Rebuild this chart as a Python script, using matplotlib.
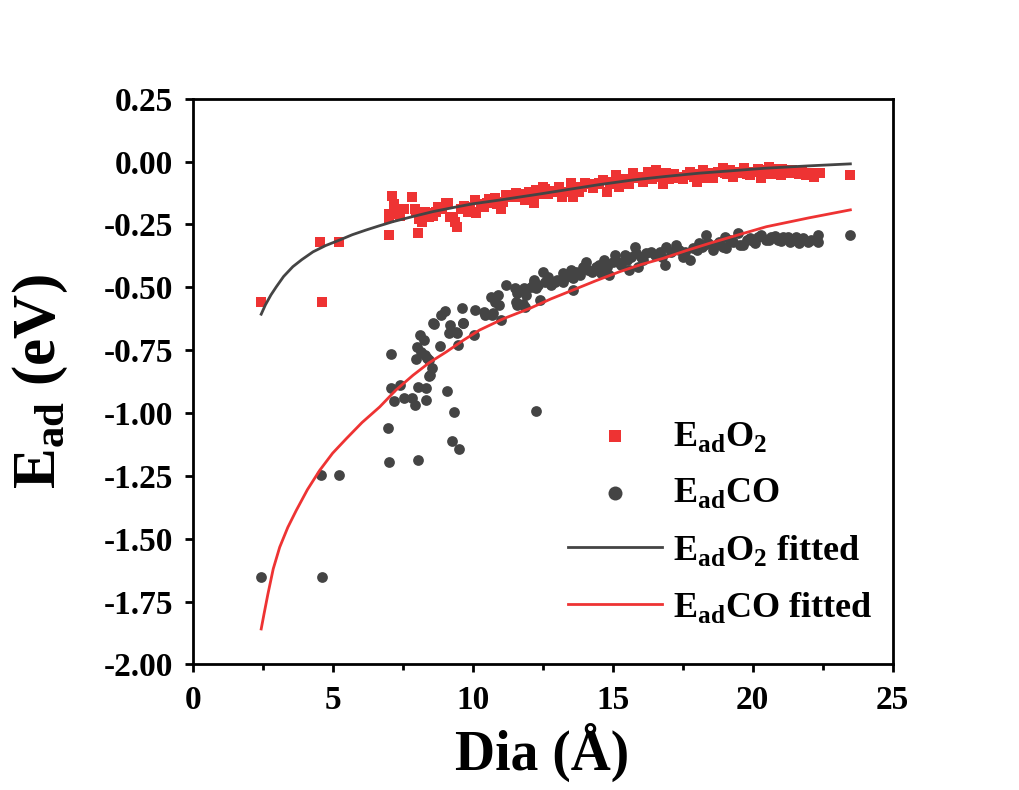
import matplotlib
matplotlib.use("Agg")
import matplotlib.pyplot as plt
import numpy as np

# E_ad O2 scatter (Dia in Angstrom, energy in eV)
o2_x = [2.45, 4.56, 5.23, 4.63, 7.11, 7.0, 7.2, 7.0, 7.03, 7.4, 7.54, 7.82, 8.04, 7.99,
        8.2, 8.43, 8.7, 9.06, 9.3, 9.46, 9.6, 10.07, 10.07, 10.7, 11.02, 11.43, 11.67, 12.2,
        7.32, 7.5, 7.93, 8.3, 8.52, 8.76, 9.12, 9.18, 9.36, 9.82, 10.13, 10.5, 10.79, 10.86,
        11.2, 11.56, 11.86, 12.15, 12.27, 12.5, 12.7, 13.1, 13.2, 13.52, 13.6, 13.9, 14.3,
        14.65, 14.8, 15.13, 15.24, 15.6, 15.72, 16.1, 16.26, 16.55, 16.8, 16.9, 17.3, 17.65,
        17.75, 18.0, 18.23, 18.35, 18.6, 18.94, 19.3, 19.7, 20.05, 20.3, 20.6, 20.9, 21.2,
        21.55, 21.92, 22.2, 22.4, 23.46, 12.9, 13.8, 14.1, 14.5, 15.0, 15.4, 16.0, 16.6,
        17.1, 17.5, 18.5, 19.1, 19.5, 19.9, 20.45, 20.75, 21.05, 21.4, 21.75,
        9.9, 10.3, 10.6, 11.1, 11.35, 11.75, 12.0, 12.4, 12.6, 12.95, 13.35, 13.7, 14.0,
        14.2, 14.45, 14.9, 15.3, 15.5, 15.85, 16.4, 16.7, 17.0, 17.2, 17.4, 17.9, 18.1,
        18.45, 18.75, 19.0, 19.2, 19.6, 19.8, 20.2, 20.55, 20.8, 21.0, 21.3, 21.65, 22.05,
        8.1, 8.6, 8.9, 9.7, 10.4]
o2_y = [-0.56, -0.32, -0.32, -0.56, -0.137, -0.29, -0.17, -0.21, -0.225, -0.216, -0.19, -0.14,
        -0.285, -0.2, -0.24, -0.22, -0.20, -0.166, -0.22, -0.26, -0.19, -0.153, -0.20, -0.15,
        -0.19, -0.14, -0.13, -0.165, -0.21, -0.19, -0.19, -0.20, -0.205, -0.18, -0.166, -0.22,
        -0.24, -0.2, -0.206, -0.166, -0.146, -0.17, -0.133, -0.126, -0.153, -0.14, -0.113,
        -0.10, -0.13, -0.10, -0.14, -0.086, -0.14, -0.10, -0.105, -0.073, -0.12, -0.053, -0.10,
        -0.09, -0.046, -0.08, -0.04, -0.033, -0.09, -0.046, -0.066, -0.053, -0.04, -0.08,
        -0.033, -0.066, -0.066, -0.026, -0.06, -0.026, -0.04, -0.066, -0.02, -0.04, -0.046,
        -0.046, -0.053, -0.06, -0.046, -0.053, -0.12, -0.12, -0.09, -0.085, -0.08, -0.07,
        -0.06, -0.06, -0.05, -0.07, -0.045, -0.05, -0.04, -0.055, -0.035, -0.05, -0.03,
        -0.035, -0.04,
        -0.18, -0.17, -0.15, -0.16, -0.14, -0.14, -0.12, -0.13, -0.11, -0.115, -0.12, -0.10,
        -0.085, -0.09, -0.09, -0.09, -0.075, -0.08, -0.065, -0.07, -0.06, -0.07, -0.05, -0.06,
        -0.06, -0.05, -0.055, -0.04, -0.045, -0.035, -0.045, -0.05, -0.03, -0.05, -0.03,
        -0.055, -0.035, -0.05, -0.045, -0.23, -0.215, -0.19, -0.175, -0.18]

# E_ad CO scatter
co_x = [2.45, 4.62, 4.58, 5.23, 7.01, 8.04, 6.99, 9.26, 9.5, 9.35, 12.25, 7.07, 7.1, 7.39,
        7.21, 7.55, 7.82, 7.94, 8.04, 8.32, 8.32, 9.1, 7.99, 8.01, 8.13, 8.25, 8.3, 8.56,
        8.44, 8.61, 8.82, 8.88, 9.0, 9.21, 9.15, 9.46, 9.48, 9.64, 9.61, 10.05, 10.08, 10.43,
        10.7, 11.02, 10.95, 11.57, 11.87, 11.2, 11.5, 11.58, 11.82, 11.9, 12.21, 12.27, 11.56,
        11.8, 10.67, 10.9, 10.8, 10.72, 10.42, 8.58, 9.42, 9.65, 8.16, 8.36, 8.43, 8.47,
        12.2, 12.1, 12.51, 12.6, 12.4, 12.8, 12.93, 13.22, 13.22, 13.5, 13.58, 13.58, 13.82,
        14.06, 14.12, 14.4, 14.6, 14.7, 14.88, 15.07, 15.2, 15.5, 15.45, 15.6, 15.79, 15.85,
        16.0, 16.2, 15.9, 16.38, 16.68, 16.86, 16.9, 17.27, 17.38, 17.5, 17.75, 17.87, 18.1,
        18.33, 18.27, 18.4, 18.58, 18.8, 19.0, 19.05, 19.3, 19.48, 19.65, 19.9, 20.1, 20.3,
        20.49, 20.67, 20.9, 21.1, 21.35, 21.56, 21.67, 21.98, 22.33, 22.33, 23.46,
        12.35, 12.7, 13.0, 13.35, 13.7, 13.95, 14.25, 14.5, 14.8, 15.0, 15.3, 15.65, 16.1,
        16.5, 16.75, 17.1, 17.6, 18.0, 18.2, 18.7, 18.95, 19.2, 19.55, 19.8, 20.0, 20.2,
        20.6, 20.8, 21.0, 21.25, 21.45, 21.8, 22.1]
co_y = [-1.653, -1.653, -1.248, -1.245, -1.195, -1.186, -1.06, -1.11, -1.142, -0.996, -0.992,
        -0.767, -0.9, -0.89, -0.952, -0.94, -0.94, -0.97, -0.896, -0.9, -0.95, -0.912, -0.787,
        -0.737, -0.69, -0.71, -0.77, -0.82, -0.852, -0.647, -0.733, -0.61, -0.595, -0.648,
        -0.68, -0.68, -0.73, -0.644, -0.584, -0.69, -0.59, -0.61, -0.61, -0.63, -0.57, -0.57,
        -0.58, -0.49, -0.504, -0.524, -0.504, -0.53, -0.478, -0.504, -0.558, -0.565, -0.538,
        -0.53, -0.56, -0.604, -0.597, -0.644, -0.677, -0.644, -0.757, -0.78, -0.79, -0.85,
        -0.471, -0.5, -0.438, -0.48, -0.55, -0.49, -0.48, -0.445, -0.48, -0.43, -0.511,
        -0.465, -0.45, -0.398, -0.43, -0.42, -0.445, -0.392, -0.45, -0.37, -0.40, -0.39,
        -0.37, -0.43, -0.339, -0.365, -0.38, -0.365, -0.42, -0.36, -0.36, -0.41, -0.34,
        -0.33, -0.35, -0.38, -0.39, -0.345, -0.325, -0.292, -0.33, -0.325, -0.35, -0.32,
        -0.30, -0.345, -0.32, -0.285, -0.33, -0.305, -0.325, -0.29, -0.312, -0.30, -0.312,
        -0.30, -0.32, -0.299, -0.325, -0.32, -0.292, -0.32, -0.292,
        -0.49, -0.46, -0.47, -0.46, -0.44, -0.42, -0.44, -0.41, -0.42, -0.40, -0.41, -0.38,
        -0.39, -0.37, -0.38, -0.36, -0.36, -0.35, -0.34, -0.33, -0.34, -0.31, -0.33, -0.31,
        -0.315, -0.30, -0.31, -0.295, -0.315, -0.30, -0.31, -0.305, -0.31]

# fitted curves
fit_o2_x = [2.45, 2.6, 2.8, 2.99, 3.25, 3.58, 3.9, 4.3, 4.75, 5.25, 5.7, 6.2, 6.65, 7.15,
            7.85, 8.58, 9.3, 10.0, 10.96, 12.39, 13.35, 14.5, 15.73, 16.9, 18.1, 19.3,
            20.49, 22.0, 23.49]
fit_o2_y = [-0.607, -0.57, -0.53, -0.498, -0.457, -0.418, -0.39, -0.359, -0.334, -0.312,
            -0.291, -0.272, -0.256, -0.239, -0.219, -0.199, -0.183, -0.168, -0.153, -0.129,
            -0.112, -0.092, -0.073, -0.059, -0.046, -0.036, -0.026, -0.017, -0.009]
fit_co_x = [2.45, 2.55, 2.69, 2.88, 3.11, 3.4, 3.7, 4.1, 4.54, 5.0, 5.49, 6.05, 6.68, 7.25,
            7.87, 8.45, 9.06, 9.65, 10.25, 11.1, 12.04, 12.8, 13.58, 14.4, 15.25, 16.0,
            16.8, 17.6, 18.46, 19.5, 20.49, 22.0, 23.49]
fit_co_y = [-1.859, -1.80, -1.72, -1.62, -1.534, -1.455, -1.388, -1.305, -1.228, -1.16,
            -1.102, -1.038, -0.976, -0.91, -0.85, -0.80, -0.757, -0.712, -0.67, -0.625,
            -0.584, -0.546, -0.511, -0.474, -0.438, -0.41, -0.385, -0.355, -0.325, -0.291,
            -0.259, -0.224, -0.192]

red = "#ee3333"
grey = "#444444"

plt.rcParams["font.family"] = "Liberation Serif"
plt.rcParams["font.weight"] = "bold"
plt.rcParams["axes.labelweight"] = "bold"
plt.rcParams["mathtext.fontset"] = "custom"
plt.rcParams["mathtext.rm"] = "Liberation Serif:bold"
plt.rcParams["mathtext.bf"] = "Liberation Serif:bold"

fig = plt.figure(figsize=(10.19, 7.9), dpi=100)
ax = fig.add_axes([0.189, 0.159, 0.687, 0.716])

ax.scatter(o2_x, o2_y, marker="s", s=48, color=red, linewidths=0, label=r"E$_{\mathbf{ad}}$O$_{\mathbf{2}}$", zorder=2)
ax.scatter(co_x, co_y, marker="o", s=60, color=grey, linewidths=0, label=r"E$_{\mathbf{ad}}$CO", zorder=2)
ax.plot(fit_o2_x, fit_o2_y, color=grey, lw=2.0, label=r"E$_{\mathbf{ad}}$O$_{\mathbf{2}}$ fitted", zorder=3)
ax.plot(fit_co_x, fit_co_y, color=red, lw=2.0, label=r"E$_{\mathbf{ad}}$CO fitted", zorder=3)

ax.set_xlim(0, 25)
ax.set_ylim(-2.0, 0.25)
ax.set_xticks(np.arange(0, 26, 5))
ax.set_xticks(np.arange(2.5, 25, 5), minor=True)
ax.set_yticks(np.arange(-2.0, 0.26, 0.25))
ax.set_yticklabels(["%.2f" % v for v in np.arange(-2.0, 0.26, 0.25)])

for s in ax.spines.values():
    s.set_linewidth(2.0)
ax.tick_params(which="major", direction="out", length=6, width=2.0, labelsize=24, pad=8)
ax.tick_params(which="minor", direction="out", length=4, width=2.0)
ax.tick_params(axis="x", pad=9)

ax.set_xlabel("Dia (Å)", fontsize=40, labelpad=5)
ax.set_ylabel(r"E$_{\mathbf{ad}}$ (eV)", fontsize=44, labelpad=24)

leg = ax.legend(loc="lower left", bbox_to_anchor=(0.49, 0.012), frameon=False, fontsize=26,
                handlelength=2.6, handletextpad=0.3, labelspacing=0.62, markerscale=1.3)

fig.savefig("out.png", dpi=100)
